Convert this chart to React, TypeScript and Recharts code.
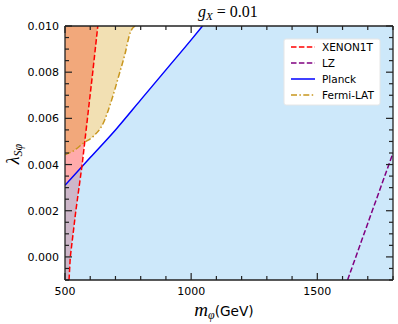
import { ComposedChart, Area, Line, XAxis, YAxis } from 'recharts'

const Y_MIN = -0.001
const Y_MAX = 0.01
const X_MIN = 500
const X_MAX = 1800

// axis ticks
const xMajor = [500, 1000, 1500]
const xMinor = [600, 700, 800, 900, 1100, 1200, 1300, 1400, 1600, 1700, 1800]
const yMajor = [0, 0.002, 0.004, 0.006, 0.008, 0.01]
const yLabels = ['0.000', '0.002', '0.004', '0.006', '0.008', '0.010']
const yMinor = [-0.001, -0.0005, 0.0005, 0.001, 0.0015, 0.0025, 0.003, 0.0035, 0.0045, 0.005, 0.0055, 0.0065, 0.007, 0.0075, 0.0085, 0.009, 0.0095]

// Planck relic density curve
const planckM = [500, 600, 700, 800, 900, 1000, 1045]
const planckV = [0.0031, 0.0043, 0.0055, 0.0068, 0.0081, 0.0094, 0.01]

// XENON1T bound
const xenonM = [516, 521, 543, 568, 589, 610, 630]
const xenonV = [-0.001, 0.0, 0.002, 0.004, 0.006, 0.008, 0.01]

// LZ projection
const lzM = [1620, 1695, 1800]
const lzV = [-0.001, 0.0013, 0.0045]

// Fermi-LAT bound
const fermiM = [500, 540, 573, 612, 652, 685, 712, 738, 758, 778]
const fermiV = [0.00442, 0.00464, 0.00493, 0.00522, 0.0058, 0.0068, 0.0078, 0.0088, 0.0097, 0.01]

const legendItems = [
  { name: 'XENON1T', color: '#ff0000', dash: '5.5 2.4' },
  { name: 'LZ', color: '#800080', dash: '5.5 2.4' },
  { name: 'Planck', color: '#0000ff', dash: '' },
  { name: 'Fermi-LAT', color: '#c8961e', dash: '6 2.4 1.5 2.4' },
]

const planck = planckM.map((m, i) => ({ m, v: planckV[i] }))
const xenon = xenonM.map((m, i) => ({ m, v: xenonV[i] }))
const lz = lzM.map((m, i) => ({ m, v: lzV[i] }))
const fermi = fermiM.map((m, i) => ({ m, v: fermiV[i] }))

const planckFill = [...planck, { m: X_MAX, v: Y_MAX }].map(d => ({ m: d.m, band: [Y_MIN, d.v] }))
const xenonFill = [{ m: X_MIN, v: Y_MIN }, ...xenon].map(d => ({ m: d.m, band: [d.v, Y_MAX] }))
const fermiFill = fermi.map(d => ({ m: d.m, band: [d.v, Y_MAX] }))

const AXIS = '#222'
const SANS = 'DejaVu Sans'
const SERIF = 'Liberation Serif'

function BottomTick({ x, y, payload }: any) {
  const major = xMajor.includes(payload.value)
  return (
    <g>
      <line x1={x} x2={x} y1={y} y2={y - (major ? 7 : 4)} stroke={AXIS} strokeWidth={1.2} />
      {major && (
        <text x={x} y={y + 15} textAnchor="middle" fontSize={11} fontFamily={SANS} fill="#000">
          {payload.value}
        </text>
      )}
    </g>
  )
}

function TopTick({ x, y, payload }: any) {
  const major = xMajor.includes(payload.value)
  return <line x1={x} x2={x} y1={y} y2={y + (major ? 7 : 4)} stroke={AXIS} strokeWidth={1.2} />
}

function LeftTick({ x, y, payload }: any) {
  const idx = yMajor.indexOf(payload.value)
  const major = idx >= 0
  return (
    <g>
      <line x1={x} x2={x + (major ? 7 : 4)} y1={y} y2={y} stroke={AXIS} strokeWidth={1.2} />
      {major && (
        <text x={x - 6} y={y + 4} textAnchor="end" fontSize={11} fontFamily={SANS} fill="#000">
          {yLabels[idx]}
        </text>
      )}
    </g>
  )
}

function RightTick({ x, y, payload }: any) {
  const major = yMajor.includes(payload.value)
  return <line x1={x} x2={x - (major ? 7 : 4)} y1={y} y2={y} stroke={AXIS} strokeWidth={1.2} />
}

export default function App() {
  const xTicks = [...xMajor, ...xMinor].sort((a, b) => a - b)
  const yTicks = [...yMajor, ...yMinor].sort((a, b) => a - b)

  return (
    <div style={{ position: 'fixed', left: 0, top: 0, width: 398, height: 324, background: '#fff' }}>
      <ComposedChart width={398} height={324} margin={{ top: 25, right: 4, bottom: 0, left: 8 }}>
        <XAxis
          dataKey="m"
          type="number"
          domain={[X_MIN, X_MAX]}
          allowDataOverflow
          ticks={xTicks}
          interval={0}
          tickSize={0}
          tickMargin={0}
          tickLine={false}
          tick={BottomTick}
          height={44}
          axisLine={{ stroke: AXIS, strokeWidth: 1.3 }}
        />
        <XAxis
          xAxisId="top"
          orientation="top"
          dataKey="m"
          type="number"
          domain={[X_MIN, X_MAX]}
          allowDataOverflow
          ticks={xTicks}
          interval={0}
          tickSize={0}
          tickMargin={0}
          tickLine={false}
          tick={TopTick}
          height={1}
          axisLine={{ stroke: AXIS, strokeWidth: 1.3 }}
        />
        <YAxis
          type="number"
          domain={[Y_MIN, Y_MAX]}
          allowDataOverflow
          ticks={yTicks}
          interval={0}
          tickSize={0}
          tickMargin={0}
          tickLine={false}
          tick={LeftTick}
          width={57}
          axisLine={{ stroke: AXIS, strokeWidth: 1.3 }}
        />
        <YAxis
          yAxisId="right"
          orientation="right"
          type="number"
          domain={[Y_MIN, Y_MAX]}
          allowDataOverflow
          ticks={yTicks}
          interval={0}
          tickSize={0}
          tickMargin={0}
          tickLine={false}
          tick={RightTick}
          width={1}
          axisLine={{ stroke: AXIS, strokeWidth: 1.3 }}
        />

        {/* excluded regions */}
        <Area data={xenonFill} dataKey="band" type="linear" fill="#ff0000" fillOpacity={0.33} stroke="none" dot={false} activeDot={false} isAnimationActive={false} />
        <Area data={fermiFill} dataKey="band" type="monotone" fill="#daa520" fillOpacity={0.34} stroke="none" dot={false} activeDot={false} isAnimationActive={false} />
        <Area data={planckFill} dataKey="band" type="linear" fill="#87c8f3" fillOpacity={0.42} stroke="none" dot={false} activeDot={false} isAnimationActive={false} />

        {/* bounds */}
        <Line data={planck} dataKey="v" type="monotone" stroke="#0000ff" strokeWidth={1.5} dot={false} activeDot={false} isAnimationActive={false} />
        <Line data={fermi} dataKey="v" type="monotone" stroke="#c8961e" strokeWidth={1.5} strokeDasharray="6 2.4 1.5 2.4" dot={false} activeDot={false} isAnimationActive={false} />
        <Line data={xenon} dataKey="v" type="linear" stroke="#ff0000" strokeWidth={1.5} strokeDasharray="5.5 2.4" dot={false} activeDot={false} isAnimationActive={false} />
        <Line data={lz} dataKey="v" type="linear" stroke="#800080" strokeWidth={1.5} strokeDasharray="5.5 2.4" dot={false} activeDot={false} isAnimationActive={false} />
      </ComposedChart>

      {/* title and axis labels */}
      <svg width={398} height={324} style={{ position: 'absolute', left: 0, top: 0, pointerEvents: 'none' }}>
        <text x={228} y={17} textAnchor="middle" fontFamily={SERIF} fontSize={16} fill="#000">
          <tspan fontStyle="italic">g</tspan>
          <tspan fontStyle="italic" fontSize={11} dy={3}>X</tspan>
          <tspan dy={-3}> = 0.01</tspan>
        </text>
        <text x={224} y={316} textAnchor="middle" fill="#000">
          <tspan fontFamily={SERIF} fontStyle="italic" fontSize={19}>m</tspan>
          <tspan fontFamily={SERIF} fontStyle="italic" fontSize={12} dy={3}>φ</tspan>
          <tspan fontFamily={SANS} fontSize={13.7} dy={-3}>(GeV)</tspan>
        </text>
        <text x={0} y={0} transform="translate(19 154) rotate(-90)" textAnchor="middle" fill="#000" fontFamily={SERIF}>
          <tspan fontStyle="italic" fontSize={18}>λ</tspan>
          <tspan fontStyle="italic" fontSize={12} dy={3}>Sφ</tspan>
        </text>

        {/* legend */}
        <g transform="translate(284 39)">
          <rect x={0} y={0} width={96} height={66} fill="#fff" stroke="#e6e6e6" rx={2} />
          {legendItems.map((item, i) => (
            <g key={item.name} transform={`translate(0 ${8 + i * 16})`}>
              <line x1={7} x2={31} y1={0} y2={0} stroke={item.color} strokeWidth={1.5} strokeDasharray={item.dash || undefined} />
              <text x={38} y={4} fontSize={10.5} fontFamily={SANS} fill="#000">{item.name}</text>
            </g>
          ))}
        </g>
      </svg>
    </div>
  )
}
